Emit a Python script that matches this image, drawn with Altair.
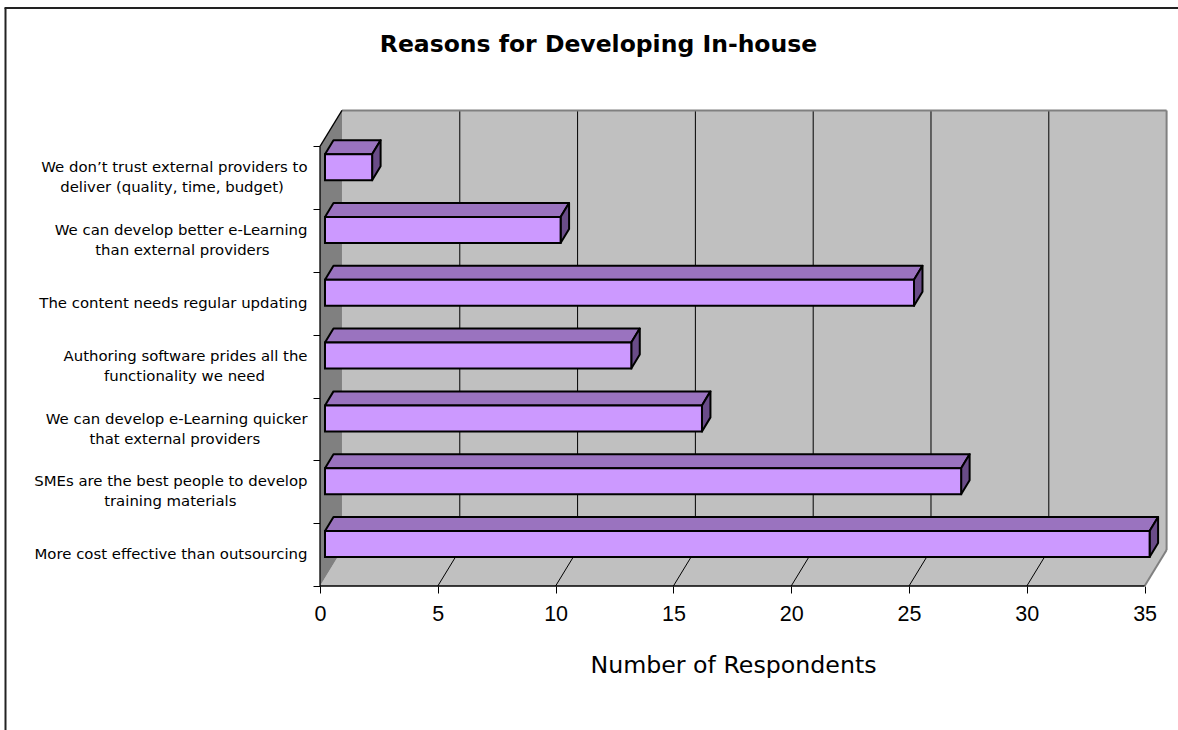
import json
import altair as alt
import pandas as pd

# ---------------- data ----------------
categories = [
    ["We don\u2019t trust external providers to", "deliver (quality, time, budget)"],
    ["We can develop better e-Learning", "than external providers"],
    ["The content needs regular updating"],
    ["Authoring software prides all the", "functionality we need"],
    ["We can develop e-Learning quicker", "that external providers"],
    ["SMEs are the best people to develop", "training materials"],
    ["More cost effective than outsourcing"],
]
values = [2, 10, 25, 13, 16, 27, 35]
x_ticks = [0, 5, 10, 15, 20, 25, 30, 35]
chart_title = "Reasons for Developing In-house"
x_title = "Number of Respondents"

# ---------------- 3-D styling (box depth, bar depth) ----------------
n = len(categories)
X_MAX = x_ticks[-1]
DX, DY = 0.933, 0.574          # depth of the box (x units / category bands)
BAR_X0 = 0.212                 # bar front plane offset
BAR_Y0, BAR_Y1 = 0.462, 0.876  # bar front face within its band
BDX, BDY = 0.36, 0.223         # bar depth
WALL = "#C0C0C0"
SIDE_WALL = "#808080"
FRONT = "#CC99FF"
TOP = "#9A73BF"
SIDE = "#6A4C88"
LABEL_SIZE = 14.9
LINE_H = 20
HALF_BAND = 31.4

# approximate DejaVu Sans advance widths (em) used to centre the two lines
# of each category label under one another (right-aligned axis labels)
_W = {" ": .318, "a": .613, "b": .635, "c": .550, "d": .635, "e": .615,
      "f": .352, "g": .635, "h": .634, "i": .278, "j": .278, "k": .579,
      "l": .278, "m": .974, "n": .634, "o": .612, "p": .635, "q": .635,
      "r": .411, "s": .521, "t": .392, "u": .634, "v": .592, "w": .818,
      "x": .592, "y": .592, "z": .525, "A": .684, "D": .770, "E": .632,
      "L": .557, "M": .863, "S": .635, "T": .611, "W": .989, "(": .390,
      ")": .390, ",": .318, "-": .361, "\u2019": .318, ".": .318}


def _width(s):
    return sum(_W.get(ch, .6) for ch in s)


def centred(lines):
    if len(lines) < 2:
        return lines
    w = max(_width(s) for s in lines)
    out = []
    for s in lines:
        pad = int(round((w - _width(s)) / 2 / 0.318))
        # no-break spaces kept from trimming by a trailing zero-width space
        out.append(s + "\u00a0" * pad + ("\u200b" if pad else ""))
    return out


xs = alt.Scale(domain=[0, X_MAX + DX + 0.017], nice=False, zero=False)
ys = alt.Scale(domain=[0, n + DY + 0.006], nice=False, zero=False)

cats_bottom_up = list(reversed(categories))
labels_bottom_up = [centred(c) for c in cats_bottom_up] + [[""]]
label_expr = json.dumps(labels_bottom_up, ensure_ascii=False) + "[datum.value]"
two_line = [i for i, c in enumerate(cats_bottom_up) if len(c) > 1]

x_axis = alt.Axis(
    values=x_ticks, grid=False, domain=False, tickSize=7, tickColor="black",
    labelFont="Liberation Sans", labelFontSize=21.5, labelColor="black",
    labelPadding=10, labelFlush=False,
    title=x_title, titleFont="DejaVu Sans", titleFontSize=23.7,
    titleFontWeight="normal", titleColor="black",
    titleX=413, titleY=86, titleBaseline="alphabetic", titleAlign="center",
)
y_axis = alt.Axis(
    values=list(range(n + 1)), grid=False, domain=False, tickSize=7,
    tickColor="black", labelExpr=label_expr, labelFont="DejaVu Sans",
    labelFontSize=LABEL_SIZE, labelColor="black", labelPadding=6,
    labelLineHeight=LINE_H, labelBaseline="middle", labelAlign="right",
    labelOffset={
        "condition": {
            "test": f"indexof({json.dumps(two_line)}, datum.value) >= 0",
            "value": -HALF_BAND - LINE_H / 2,
        },
        "value": -HALF_BAND,
    },
    labelOverlap=False, labelLimit=600, title="",
)


def X(field, **kw):
    return alt.X(field, scale=xs, axis=x_axis, **kw)


def Y(field, **kw):
    return alt.Y(field, scale=ys, axis=y_axis, **kw)


# ---------------- derived tables ----------------
back_wall = pd.DataFrame({"x": [DX], "x2": [X_MAX + DX], "y": [DY], "y2": [n + DY]})
grid_back = pd.DataFrame({
    "x": [v + DX for v in x_ticks[1:-1]],
    "y": [DY] * (len(x_ticks) - 2), "y2": [n + DY] * (len(x_ticks) - 2),
})
back_edges = pd.DataFrame({
    "x": [DX, X_MAX + DX], "x2": [X_MAX + DX, X_MAX + DX],
    "y": [n + DY, DY], "y2": [n + DY, n + DY],
})
floor = pd.DataFrame({"y": [0, DY], "xa": [0, DX], "xb": [X_MAX, X_MAX + DX]})
floor_lines = pd.DataFrame({
    "x": [v for v in x_ticks[1:-1]], "x2": [v + DX for v in x_ticks[1:-1]],
    "y": [0] * (len(x_ticks) - 2), "y2": [DY] * (len(x_ticks) - 2),
})
floor_right = pd.DataFrame({"x": [X_MAX], "x2": [X_MAX + DX], "y": [0], "y2": [DY]})
left_wall = pd.DataFrame({"x": [0, DX], "ya": [0, DY], "yb": [n, n + DY]})
black_edges = pd.DataFrame({
    "x": [0, 0, 0], "x2": [DX, 0, X_MAX],
    "y": [n, 0, 0], "y2": [n + DY, n, 0],
})

front_rows, top_rows, side_rows = [], [], []
for k, v in enumerate(values):
    i = n - 1 - k
    front_rows.append({"x": BAR_X0, "x2": BAR_X0 + v, "y": i + BAR_Y0, "y2": i + BAR_Y1})
    top_rows.append({"id": k, "y": i + BAR_Y1, "xa": BAR_X0, "xb": BAR_X0 + v})
    top_rows.append({"id": k, "y": i + BAR_Y1 + BDY, "xa": BAR_X0 + BDX, "xb": BAR_X0 + v + BDX})
    side_rows.append({"id": k, "x": BAR_X0 + v, "ya": i + BAR_Y0, "yb": i + BAR_Y1})
    side_rows.append({"id": k, "x": BAR_X0 + v + BDX, "ya": i + BAR_Y0 + BDY, "yb": i + BAR_Y1 + BDY})
bar_front = pd.DataFrame(front_rows)
bar_top = pd.DataFrame(top_rows)
bar_side = pd.DataFrame(side_rows)

# ---------------- layers ----------------
l_back = alt.Chart(back_wall).mark_rect(fill=WALL, strokeWidth=0).encode(
    x=X("x:Q"), x2="x2:Q", y=Y("y:Q"), y2="y2:Q",
)
l_grid = alt.Chart(grid_back).mark_rule(color="black", strokeWidth=1).encode(
    x=X("x:Q"), y=Y("y:Q"), y2="y2:Q",
)
l_back_edges = alt.Chart(back_edges).mark_rule(color="#808080", strokeWidth=2).encode(
    x=X("x:Q"), x2="x2:Q", y=Y("y:Q"), y2="y2:Q",
)
l_floor = alt.Chart(floor).mark_area(orient="horizontal", fill=WALL, strokeWidth=0).encode(
    y=Y("y:Q"), x=X("xa:Q", stack=False), x2="xb:Q",
)
l_floor_lines = alt.Chart(floor_lines).mark_rule(color="black", strokeWidth=1).encode(
    x=X("x:Q"), x2="x2:Q", y=Y("y:Q"), y2="y2:Q",
)
l_floor_right = alt.Chart(floor_right).mark_rule(color="#808080", strokeWidth=2).encode(
    x=X("x:Q"), x2="x2:Q", y=Y("y:Q"), y2="y2:Q",
)
l_left = alt.Chart(left_wall).mark_area(orient="vertical", fill=SIDE_WALL, strokeWidth=0).encode(
    x=X("x:Q"), y=Y("ya:Q", stack=False), y2="yb:Q",
)
l_edges = alt.Chart(black_edges).mark_rule(color="black", strokeWidth=1.3).encode(
    x=X("x:Q"), x2="x2:Q", y=Y("y:Q"), y2="y2:Q",
)
l_top = alt.Chart(bar_top).mark_area(
    orient="horizontal", fill=TOP, stroke="black", strokeWidth=2, strokeJoin="round"
).encode(
    y=Y("y:Q"), x=X("xa:Q", stack=False), x2="xb:Q", detail="id:N",
)
l_side = alt.Chart(bar_side).mark_area(
    orient="vertical", fill=SIDE, stroke="black", strokeWidth=2, strokeJoin="round"
).encode(
    x=X("x:Q"), y=Y("ya:Q", stack=False), y2="yb:Q", detail="id:N",
)
l_front = alt.Chart(bar_front).mark_rect(fill=FRONT, stroke="black", strokeWidth=2).encode(
    x=X("x:Q"), x2="x2:Q", y=Y("y:Q"), y2="y2:Q",
)

# outer chart frame (decoration)
frame_df = pd.DataFrame({"k": [0]})
l_frame_left = alt.Chart(frame_df).mark_rule(color="#222222", strokeWidth=2).encode(
    x=alt.value(-314.5), y=alt.value(-102), y2=alt.value(640),
)
l_frame_top = alt.Chart(frame_df).mark_rule(color="#222222", strokeWidth=2).encode(
    x=alt.value(-315.5), x2=alt.value(880), y=alt.value(-102),
)

chart = alt.layer(
    l_back, l_grid, l_back_edges, l_floor, l_floor_lines, l_floor_right,
    l_left, l_edges, l_top, l_side, l_front, l_frame_left, l_frame_top,
).properties(
    width=847, height=476,
    autosize=alt.AutoSizeParams(type="none"),
    padding={"left": 320, "top": 110, "right": 11, "bottom": 144},
    background="white",
    title=alt.TitleParams(
        chart_title, font="DejaVu Sans", fontSize=23.5, fontWeight="bold",
        color="black", anchor="middle", frame="group", dx=-145,
        baseline="alphabetic", offset=0, dy=68,
    ),
).configure_view(stroke=None)

chart.save("out.html", embed_options={"renderer": "svg", "actions": False})
